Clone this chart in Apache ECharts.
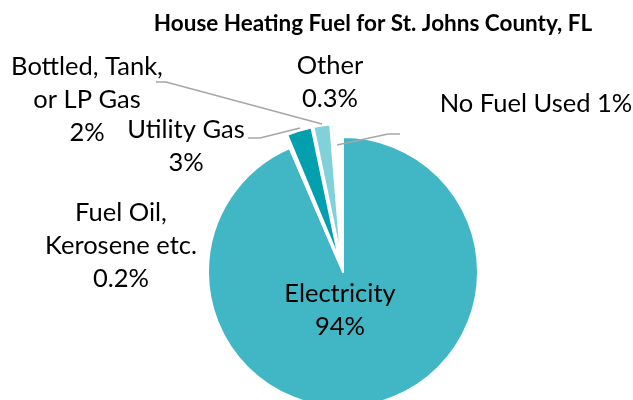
<!DOCTYPE html>
<html>
<head>
<meta charset="utf-8">
<script src="https://cdn.jsdelivr.net/npm/echarts@6/dist/echarts.min.js"></script>
<style>
  html, body { margin: 0; padding: 0; background: #fff; }
  #chart { width: 633px; height: 400px; }
</style>
</head>
<body>
<div id="chart"></div>
<script>
// House heating fuel shares, St. Johns County, FL (percent of households)
const categories = ['Electricity', 'Fuel Oil,\nKerosene etc.', 'Utility Gas', 'Bottled, Tank,\nor LP Gas', 'Other', 'No Fuel Used'];
const shares = [94, 0.2, 3, 2, 0.3, 1];
const sliceColors = ['#41b6c4', '#1896a6', '#02a0ae', '#80d1d9', '#c9ecf0', '#ffffff'];

// label placement per slice (text centre + optional leader line)
const labelSpots = [
  { x: 340, y: 310, sep: '\n' },
  { x: 121, y: 246, sep: '\n' },
  { x: 186, y: 146, sep: '\n', line: [[300, 128], [260, 138], [248, 138]] },
  { x: 87, y: 100, sep: '\n', line: [[322, 124], [166, 82], [156, 82]] },
  { x: 330, y: 82, sep: '\n' },
  { x: 536, y: 104, sep: ' ', line: [[337, 145], [388, 134], [400, 134]] }
];

const pieCenter = [343, 272];
const pieRadius = 135;

const chart = echarts.init(document.getElementById('chart'), null, { renderer: 'canvas' });

// slices: every small share is pulled out of the pie
const sliceData = categories.map((name, i) => ({
  name: name,
  value: shares[i],
  selected: i !== 0,
  itemStyle: { color: sliceColors[i] },
  select: { itemStyle: { color: sliceColors[i], borderColor: '#fff', borderWidth: 2 } }
}));

// same shares again, invisible, carrying the data labels
const labelData = categories.map((name, i) => ({
  name: name,
  value: shares[i],
  label: { position: i === 0 ? 'inside' : 'outside' },
  labelLine: { show: !!labelSpots[i].line }
}));

chart.setOption({
  animation: false,
  title: {
    text: 'House Heating Fuel for St. Johns County, FL',
    left: 368,
    top: 7,
    textAlign: 'center',
    textStyle: { fontFamily: 'Lato', fontWeight: 'bold', fontSize: 22.5, color: '#000' }
  },
  series: [{
    type: 'pie',
    center: pieCenter,
    radius: pieRadius,
    startAngle: 90,
    clockwise: true,
    selectedMode: 'multiple',
    selectedOffset: 13,
    itemStyle: { borderColor: '#fff', borderWidth: 2 },
    emphasis: { disabled: true },
    label: { show: false },
    labelLine: { show: false },
    silent: true,
    data: sliceData
  }, {
    type: 'pie',
    center: pieCenter,
    radius: pieRadius,
    startAngle: 90,
    clockwise: true,
    avoidLabelOverlap: false,
    silent: true,
    z: 3,
    itemStyle: { color: 'rgba(0,0,0,0)', borderWidth: 0 },
    emphasis: { disabled: true },
    label: {
      show: true,
      color: '#000',
      fontFamily: 'Lato',
      fontSize: 25.5,
      lineHeight: 33,
      align: 'center',
      formatter: p => p.name + labelSpots[p.dataIndex].sep + p.value + '%'
    },
    labelLine: { lineStyle: { color: '#a6a6a6', width: 1.5 } },
    labelLayout: p => {
      const s = labelSpots[p.dataIndex];
      const out = { x: s.x, y: s.y, align: 'center', verticalAlign: 'middle' };
      if (s.line) out.labelLinePoints = s.line;
      return out;
    },
    data: labelData
  }]
});
</script>
</body>
</html>
